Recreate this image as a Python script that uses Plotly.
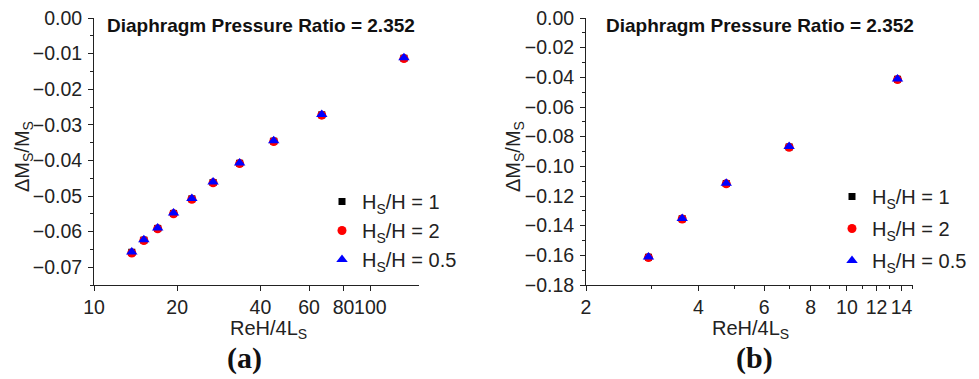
import plotly.graph_objects as go

# Panel (a): ReH/4Ls vs ΔMs/Ms
re_a = [13.7, 15.15, 17.0, 19.4, 22.6, 26.97, 33.65, 44.7, 66.7, 132.3]
dm_a_h1 = [-0.0658, -0.0624, -0.0591, -0.0549, -0.0508, -0.0462, -0.0408, -0.0346, -0.0272, -0.0113]
dm_a_h2 = [-0.0660, -0.0625, -0.0592, -0.0550, -0.0509, -0.0463, -0.0409, -0.0347, -0.0273, -0.0114]
dm_a_h05 = [-0.0657, -0.0623, -0.0590, -0.0548, -0.0507, -0.0461, -0.0407, -0.0345, -0.0271, -0.0112]

# Panel (b)
re_b = [2.94, 3.62, 4.75, 7.0, 13.66]
dm_b_h1 = [-0.1613, -0.1353, -0.1116, -0.0869, -0.0413]
dm_b_h2 = [-0.1615, -0.1355, -0.1118, -0.0871, -0.0415]
dm_b_h05 = [-0.1611, -0.1351, -0.1114, -0.0867, -0.0411]

series_names = ["H<sub>S</sub>/H = 1", "H<sub>S</sub>/H = 2", "H<sub>S</sub>/H = 0.5"]
series_colors = ["#000000", "#ff0000", "#0000ff"]
series_symbols = ["square", "circle", "triangle-up"]
series_sizes = [7, 9, 10]

xticks_a = [10, 20, 40, 60, 80, 100]
yticks_a = [0.0, -0.01, -0.02, -0.03, -0.04, -0.05, -0.06, -0.07]
xticks_b = [2, 4, 6, 8, 10, 12, 14]
xminor_b = [3, 5, 7, 9, 11, 13, 15]
yticks_b = [0.0, -0.02, -0.04, -0.06, -0.08, -0.10, -0.12, -0.14, -0.16, -0.18]

title_text = "Diaphragm Pressure Ratio = 2.352"

W, H = 979, 379
FONT = "Liberation Sans, Arial, sans-serif"
INK = "#222222"

fig = go.Figure()

for i, ys in enumerate([dm_a_h1, dm_a_h2, dm_a_h05]):
    fig.add_trace(go.Scatter(
        x=re_a, y=ys, mode="markers", name=series_names[i],
        marker=dict(symbol=series_symbols[i], color=series_colors[i], size=series_sizes[i]),
        xaxis="x", yaxis="y", legend="legend", legendgroup="a%d" % i))

for i, ys in enumerate([dm_b_h1, dm_b_h2, dm_b_h05]):
    fig.add_trace(go.Scatter(
        x=re_b, y=ys, mode="markers", name=series_names[i],
        marker=dict(symbol=series_symbols[i], color=series_colors[i], size=series_sizes[i]),
        xaxis="x2", yaxis="y2", legend="legend2", legendgroup="b%d" % i))

def px_x(p):
    return p / W

def px_y(p):
    return 1 - p / H

axis_common = dict(
    showline=True, linecolor=INK, linewidth=1, mirror=False,
    showgrid=False, zeroline=False, automargin=False,
    ticks="outside", ticklen=5, tickwidth=1, tickcolor=INK,
    tickfont=dict(family=FONT, size=19.5, color=INK),
    tickangle=0,
)

ydom = [px_y(285), px_y(18)]

fig.update_layout(
    width=W, height=H, autosize=False,
    margin=dict(l=0, r=0, t=0, b=0, pad=0),
    paper_bgcolor="white", plot_bgcolor="white",
    xaxis=dict(axis_common, type="log", domain=[px_x(94), px_x(419)],
               range=[1, 2.176], tickvals=xticks_a,
               ticktext=[str(v) for v in xticks_a], anchor="y"),
    yaxis=dict(axis_common, domain=ydom, range=[-0.075, 0],
               tickvals=yticks_a, tickformat=".2f", anchor="x",
               ticklabelstandoff=2,
               minor=dict(dtick=0.005, tick0=0, ticks="outside", ticklen=3, tickcolor=INK)),
    xaxis2=dict(axis_common, type="log", domain=[px_x(586), px_x(912.7)],
                range=[0.30103, 1.17609], tickvals=xticks_b,
                ticktext=[str(v) for v in xticks_b], anchor="y2",
                minor=dict(tickvals=xminor_b, ticks="outside", ticklen=3, tickcolor=INK)),
    yaxis2=dict(axis_common, domain=ydom, range=[-0.18, 0],
                tickvals=yticks_b, tickformat=".2f", anchor="x2",
                ticklabelstandoff=2,
                minor=dict(dtick=0.01, tick0=0, ticks="outside", ticklen=3, tickcolor=INK)),
    legend=dict(x=px_x(322), y=px_y(182), xanchor="left", yanchor="top",
                bgcolor="rgba(0,0,0,0)", font=dict(family=FONT, size=20, color=INK),
                itemsizing="trace", tracegroupgap=0),
    legend2=dict(x=px_x(832), y=px_y(177), xanchor="left", yanchor="top",
                 bgcolor="rgba(0,0,0,0)", font=dict(family=FONT, size=20, color=INK),
                 itemsizing="trace", tracegroupgap=3),
    showlegend=True,
)

annotations = []
# Panel titles
for xl in [105, 604]:
    annotations.append(dict(x=px_x(xl), y=px_y(26), xref="paper", yref="paper",
                            xanchor="left", yanchor="middle", showarrow=False,
                            text="<b>" + title_text + "</b>",
                            font=dict(family=FONT, size=19, color="#111111")))
# Axis titles
for xc in [268, 750]:
    annotations.append(dict(x=px_x(xc), y=px_y(329), xref="paper", yref="paper",
                            xanchor="center", yanchor="middle", showarrow=False,
                            text="ReH/4L<sub>S</sub>",
                            font=dict(family=FONT, size=20, color=INK)))
for xc in [24, 515]:
    annotations.append(dict(x=px_x(xc), y=px_y(157), xref="paper", yref="paper",
                            xanchor="center", yanchor="middle", showarrow=False,
                            textangle=-90, text="ΔM<sub>S</sub>/M<sub>S</sub>",
                            font=dict(family=FONT, size=20, color=INK)))
# Panel labels
for xc, lab in [(244, "(a)"), (754, "(b)")]:
    annotations.append(dict(x=px_x(xc), y=px_y(358), xref="paper", yref="paper",
                            xanchor="center", yanchor="middle", showarrow=False,
                            text="<b>" + lab + "</b>",
                            font=dict(family="Liberation Serif, Times New Roman, serif",
                                      size=30, color="#111111")))
fig.update_layout(annotations=annotations)

fig.write_html("out.html")
